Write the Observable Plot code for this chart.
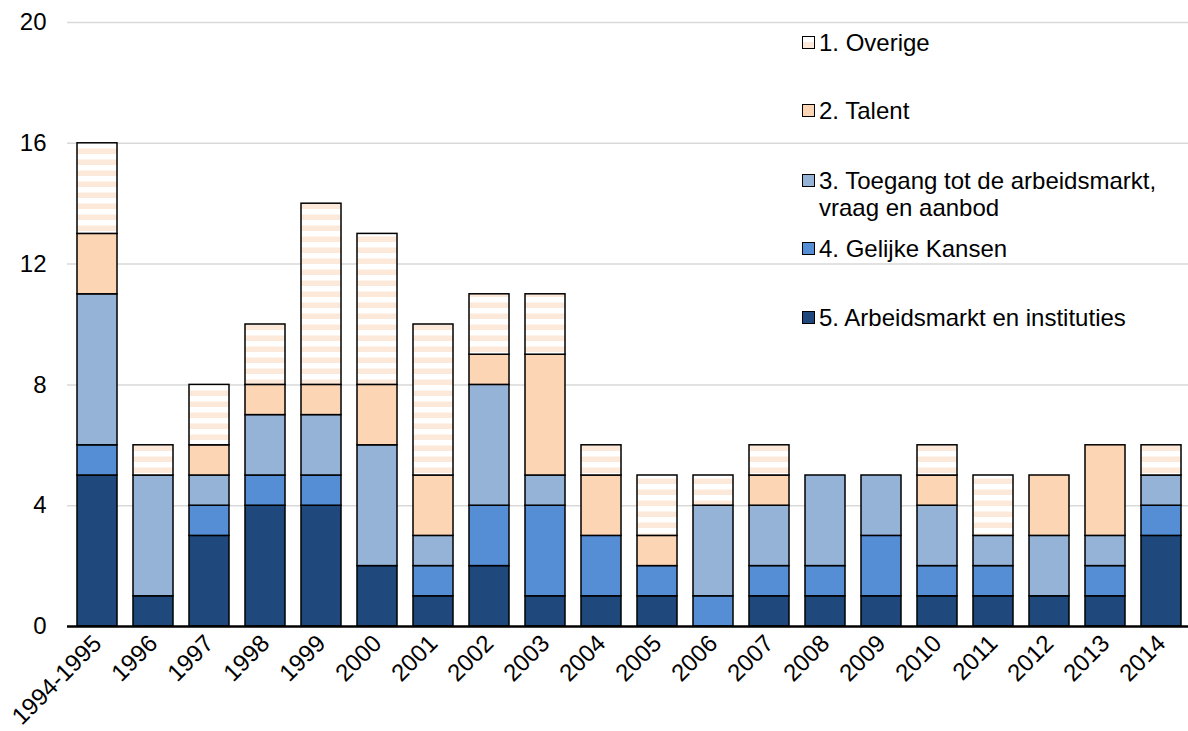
<!DOCTYPE html>
<html>
<head>
<meta charset="utf-8">
<script src="https://cdn.jsdelivr.net/npm/d3@7"></script>
<script src="https://cdn.jsdelivr.net/npm/@observablehq/plot@0.6"></script>
<style>
  html, body { margin: 0; padding: 0; background: #fff; }
  #wrap { position: relative; width: 1188px; height: 731px; font-family: Arial, "Liberation Sans", sans-serif; }
  .leg { position: absolute; left: 802px; font-size: 24px; line-height: 27px; color: #000; }
  .leg .sw { position: absolute; left: 0; top: 7px; width: 11px; height: 11px; border: 1px solid #000; box-sizing: content-box; }
  .leg .tx { position: absolute; left: 17px; white-space: nowrap; }
</style>
</head>
<body>
<div id="wrap"></div>
<script>
const categories = ["1994-1995","1996","1997","1998","1999","2000","2001","2002","2003","2004","2005","2006","2007","2008","2009","2010","2011","2012","2013","2014"];
const seriesNames = ["5. Arbeidsmarkt en instituties","4. Gelijke Kansen","3. Toegang tot de arbeidsmarkt, vraag en aanbod","2. Talent","1. Overige"];
const arbeidsmarkt = [5,1,3,4,4,2,1,2,1,1,1,0,1,1,1,1,1,1,1,3];
const gelijkeKansen = [1,0,1,1,1,0,1,2,3,2,1,1,1,1,2,1,1,0,1,1];
const toegang      = [5,4,1,2,2,4,1,4,1,0,0,3,2,3,2,2,1,2,1,1];
const talent       = [2,0,1,1,1,2,2,1,4,2,1,0,1,0,0,1,0,2,3,0];
const overige      = [3,1,2,2,6,5,5,2,2,1,2,1,1,0,0,1,2,0,0,1];
const yTicks = [0,4,8,12,16,20];
const seriesColors = ["#1F497D","#558ED5","#95B3D7","#FCD5B5","url(#stripes)"];

const seriesValues = [arbeidsmarkt, gelijkeKansen, toegang, talent, overige];
const data = [];
categories.forEach((c, i) => {
  seriesValues.forEach((vals, s) => {
    if (vals[i] > 0) data.push({cat: c, series: seriesNames[s], value: vals[i]});
  });
});

const font = "Arial, 'Liberation Sans', sans-serif";
const chart = Plot.plot({
  width: 1188,
  height: 731,
  marginTop: 22,
  marginBottom: 105,
  marginLeft: 67,
  marginRight: 0,
  style: {fontFamily: font, fontSize: "24px", color: "#000", background: "#fff", overflow: "visible"},
  x: {type: "band", domain: categories, range: [67, 1192], paddingInner: 0.28, paddingOuter: 0.14, label: null},
  y: {domain: [0, 20], range: [626, 22], label: null},
  color: {type: "ordinal", domain: seriesNames, range: seriesColors},
  marks: [
    Plot.ruleY(yTicks.filter(d => d > 0), {stroke: "#d9d9d9", strokeWidth: 1.5}),
    Plot.axisY({ticks: yTicks, tickSize: 0, tickPadding: 21, fontSize: 24, label: null}),
    Plot.barY(data, Plot.stackY({x: "cat", y: "value", z: "series", order: null, fill: "series", stroke: "#000", strokeWidth: 1.5})),
    Plot.ruleY([0], {stroke: "#000", strokeWidth: 2.5}),
    Plot.axisX({tickSize: 0, tickRotate: -45, tickPadding: 13, fontSize: 24, label: null})
  ]
});

// stripe pattern for "Overige"
const defs = d3.select(chart).insert("defs", ":first-child");
const pat = defs.append("pattern").attr("id", "stripes").attr("patternUnits", "userSpaceOnUse")
  .attr("width", 10).attr("height", 11);
pat.append("rect").attr("width", 10).attr("height", 11).attr("fill", "#ffffff");
pat.append("rect").attr("y", 5.5).attr("width", 10).attr("height", 5.5).attr("fill", "#FDE9D9");

const wrap = document.getElementById("wrap");
wrap.appendChild(chart);

// legend (top-right, over the plot area)
const legendItems = [
  {name: seriesNames[4], color: "#FFFFFF", stripe: true, top: 29},
  {name: seriesNames[3], color: seriesColors[3], top: 97},
  {name: seriesNames[2], color: seriesColors[2], top: 167, lines: ["3. Toegang tot de arbeidsmarkt,", "vraag en aanbod"]},
  {name: seriesNames[1], color: seriesColors[1], top: 235},
  {name: seriesNames[0], color: seriesColors[0], top: 304}
];
legendItems.forEach(it => {
  const d = document.createElement("div");
  d.className = "leg";
  d.style.top = it.top + "px";
  const sw = document.createElement("div");
  sw.className = "sw";
  sw.style.background = it.stripe ? "linear-gradient(#fff 0 50%, #FDE9D9 50% 100%)" : it.color;
  d.appendChild(sw);
  const tx = document.createElement("div");
  tx.className = "tx";
  tx.innerHTML = (it.lines || [it.name]).join("<br>");
  d.appendChild(tx);
  wrap.appendChild(d);
});
</script>
</body>
</html>
